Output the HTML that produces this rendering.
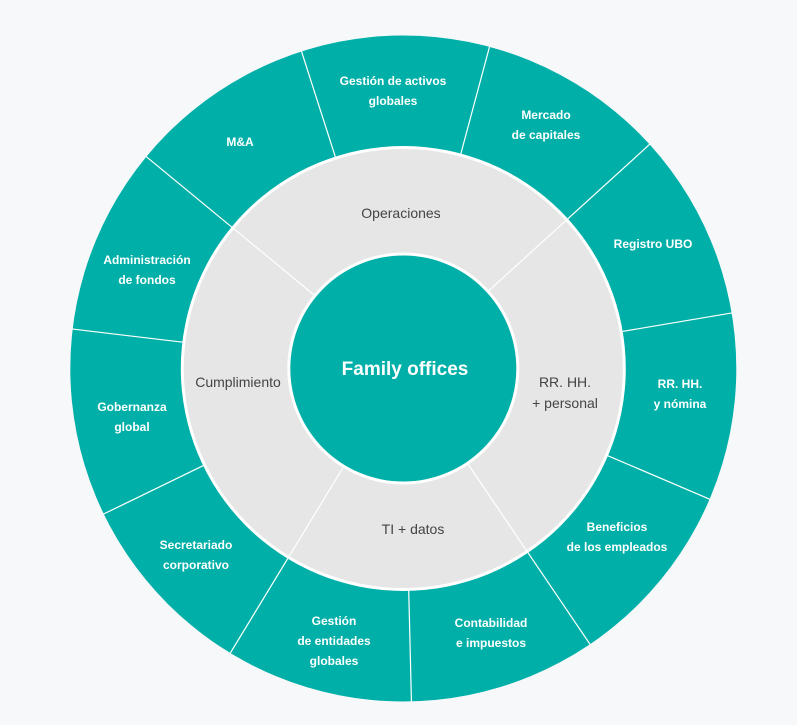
<!DOCTYPE html>
<html><head><meta charset="utf-8"><style>
html,body{margin:0;padding:0;background:#f7f8fa;}
svg{display:block}
text{font-family:"Liberation Sans",Arial,sans-serif;}
.o{fill:#fff;font-size:12px;font-weight:bold;text-anchor:middle}
.m{fill:#444;font-size:14px;text-anchor:middle}
</style></head><body>
<svg width="797" height="725" viewBox="0 0 797 725">
<rect width="797" height="725" fill="#f7f8fa"/>
<g transform="translate(403.3,368.5)">
<circle r="333" fill="#00b0a8"/>
<circle r="222.5" fill="#fff"/>
<circle r="219.5" fill="#e6e6e6"/>
<circle r="116" fill="#fff"/>
<circle r="113" fill="#00b0a8"/>
<g stroke="#fff" stroke-width="1.2">
<line x1="115" y1="0" x2="334" y2="0" transform="rotate(-140.5)"/>
<line x1="115" y1="0" x2="334" y2="0" transform="rotate(-42.3)"/>
<line x1="115" y1="0" x2="334" y2="0" transform="rotate(55.9)"/>
<line x1="115" y1="0" x2="334" y2="0" transform="rotate(121.3)"/>
<line x1="220" y1="0" x2="334" y2="0" transform="rotate(-107.8)"/>
<line x1="220" y1="0" x2="334" y2="0" transform="rotate(-75.0)"/>
<line x1="220" y1="0" x2="334" y2="0" transform="rotate(-9.6)"/>
<line x1="220" y1="0" x2="334" y2="0" transform="rotate(23.1)"/>
<line x1="220" y1="0" x2="334" y2="0" transform="rotate(88.6)"/>
<line x1="220" y1="0" x2="334" y2="0" transform="rotate(154.1)"/>
<line x1="220" y1="0" x2="334" y2="0" transform="rotate(-173.2)"/>
</g>
</g>
<text class="o" x="393" y="85">Gestión de activos</text>
<text class="o" x="393" y="105">globales</text>
<text class="o" x="546" y="119">Mercado</text>
<text class="o" x="546" y="139">de capitales</text>
<text class="o" x="240" y="146">M&amp;A</text>
<text class="o" x="653" y="248">Registro UBO</text>
<text class="o" x="147" y="264">Administración</text>
<text class="o" x="147" y="284">de fondos</text>
<text class="o" x="680" y="388">RR. HH.</text>
<text class="o" x="680" y="408">y nómina</text>
<text class="o" x="132" y="411">Gobernanza</text>
<text class="o" x="132" y="431">global</text>
<text class="o" x="617" y="531">Beneficios</text>
<text class="o" x="617" y="551">de los empleados</text>
<text class="o" x="196" y="549">Secretariado</text>
<text class="o" x="196" y="569">corporativo</text>
<text class="o" x="491" y="627">Contabilidad</text>
<text class="o" x="491" y="647">e impuestos</text>
<text class="o" x="334" y="625">Gestión</text>
<text class="o" x="334" y="645">de entidades</text>
<text class="o" x="334" y="665">globales</text>
<text class="m" x="401" y="218">Operaciones</text>
<text class="m" x="238" y="387">Cumplimiento</text>
<text class="m" x="565" y="387">RR. HH.</text>
<text class="m" x="565" y="408">+ personal</text>
<text class="m" x="413" y="534">TI + datos</text>
<text x="405" y="375" fill="#fff" font-size="19" font-weight="bold" text-anchor="middle">Family offices</text>
</svg>
</body></html>
